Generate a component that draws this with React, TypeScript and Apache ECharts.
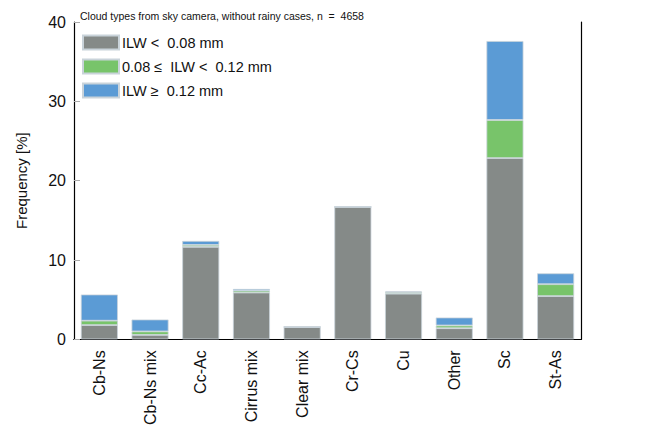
import React, { useEffect, useRef } from "react";
import * as echarts from "echarts";

const categories = ["Cb-Ns", "Cb-Ns mix", "Cc-Ac", "Cirrus mix", "Clear mix", "Cr-Cs", "Cu", "Other", "Sc", "St-As"];
const lowIlw = [1.8, 0.55, 11.65, 5.9, 1.55, 16.7, 5.75, 1.4, 22.85, 5.45];
const midIlw = [0.55, 0.45, 0.25, 0.25, 0.02, 0, 0.2, 0.35, 4.8, 1.5];
const highIlw = [3.3, 1.5, 0.5, 0.2, 0.04, 0, 0.1, 1.0, 9.95, 1.37];
const seriesNames = ["ILW <  0.08 mm", "0.08 ≤  ILW <  0.12 mm", "ILW ≥  0.12 mm"];
const title = "Cloud types from sky camera, without rainy cases, n  =  4658";
const yName = "Frequency [%]";

const FONT = "Liberation Sans, Arial, sans-serif";

export default function App() {
  const ref = useRef<HTMLDivElement>(null);
  useEffect(() => {
    if (!ref.current) return;
    const chart = echarts.init(ref.current, undefined, { renderer: "svg" });
    const gl = 74, gt = 22, gw = 507, gh = 321;
    const mk = (name: string, data: number[], color: string) => ({
      name,
      type: "bar",
      stack: "all",
      data,
      barWidth: "73%",
      xAxisIndex: 0,
      yAxisIndex: 0,
      itemStyle: { color, borderColor: "#c9d3da", borderWidth: 0.8 },
      emphasis: { disabled: true },
    });
    chart.setOption({
      animation: false,
      backgroundColor: "#ffffff",
      textStyle: { fontFamily: FONT },
      title: {
        text: title,
        left: 75,
        top: 5,
        textStyle: { fontSize: 10.5, fontWeight: "normal", color: "#111", fontFamily: FONT },
      },
      legend: {
        orient: "vertical",
        left: 82,
        top: 34,
        padding: 0,
        itemWidth: 36,
        itemHeight: 14,
        itemGap: 7,
        icon: "rect",
        textStyle: { fontSize: 14.5, lineHeight: 17, color: "#111", fontFamily: FONT, padding: [0, 0, 0, -2] },
        data: seriesNames,
      },
      grid: { left: gl, top: gt, width: gw, height: gh, containLabel: false },
      xAxis: [
        {
          type: "category",
          data: categories,
          axisLine: { lineStyle: { color: "#000", width: 1.2 } },
          axisTick: { show: false },
          axisLabel: { rotate: 90, fontSize: 16, color: "#111", margin: 11, fontFamily: FONT },
        },
        {
          type: "category",
          data: categories,
          position: "top",
          axisLine: { lineStyle: { color: "#000", width: 1.2 } },
          axisTick: { show: false },
          axisLabel: { show: false },
        },
      ],
      yAxis: [
        {
          type: "value",
          min: 0,
          max: 40,
          interval: 10,
          name: yName,
          nameLocation: "middle",
          nameGap: 45,
          nameTextStyle: { fontSize: 15, color: "#111", fontFamily: FONT },
          axisLine: { show: true, lineStyle: { color: "#000", width: 1.2 } },
          axisTick: { show: true, inside: true, length: 6, lineStyle: { color: "#aaa" } },
          axisLabel: { fontSize: 16, color: "#111", margin: 8, fontFamily: FONT },
          splitLine: { show: false },
        },
        {
          type: "value",
          min: 0,
          max: 40,
          interval: 10,
          position: "right",
          axisLine: { show: true, lineStyle: { color: "#000", width: 1.2 } },
          axisTick: { show: false },
          axisLabel: { show: false },
          splitLine: { show: false },
        },
      ],
      series: [
        mk(seriesNames[0], lowIlw, "#858a88"),
        mk(seriesNames[1], midIlw, "#78c46a"),
        mk(seriesNames[2], highIlw, "#5b9bd5"),
      ],
    });
    return () => chart.dispose();
  }, []);
  return <div ref={ref} style={{ width: 652, height: 428, position: "absolute", left: 0, top: 0 }} />;
}
